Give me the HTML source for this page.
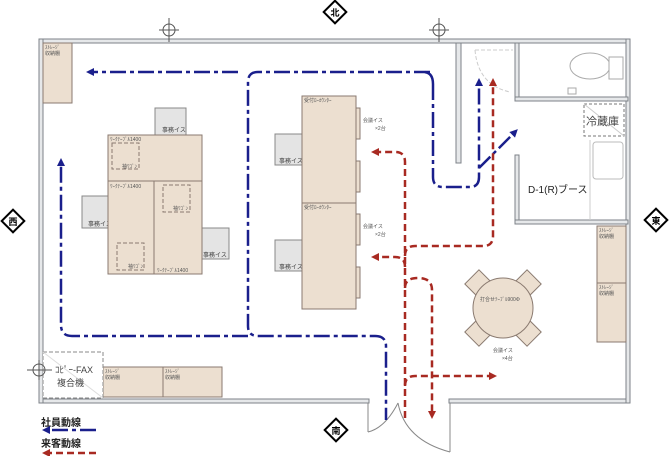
<!DOCTYPE html>
<html><head><meta charset="utf-8"><style>
html,body{margin:0;padding:0;background:#fff;}
svg{display:block;font-family:"Liberation Sans","Noto Sans CJK JP",sans-serif;}
</style></head><body>
<svg width="670" height="456" viewBox="0 0 670 456" xmlns="http://www.w3.org/2000/svg">
<defs>
<marker id="ab" markerWidth="8" markerHeight="8" refX="4" refY="4" orient="auto" markerUnits="userSpaceOnUse"><path d="M0,0 L8,4 L0,8 z" fill="#1a1f8c"/></marker>
<marker id="ar" markerWidth="8" markerHeight="8" refX="4" refY="4" orient="auto" markerUnits="userSpaceOnUse"><path d="M0,0 L8,4 L0,8 z" fill="#a82a22"/></marker>
</defs>
<!-- outer walls -->
<g stroke="#7d8288" fill="#e6e8ea" stroke-width="1">
<rect x="39" y="39" width="591" height="4"/>
<rect x="39" y="399" width="330" height="4"/>
<rect x="449" y="399" width="181" height="4"/>
<rect x="39" y="39" width="4" height="364"/>
<rect x="626" y="39" width="4" height="364"/>
<!-- interior walls -->
<rect x="456" y="43" width="5" height="120"/>
<rect x="515" y="43" width="4" height="57"/>
<rect x="515" y="97" width="113" height="4"/>
<rect x="515" y="155" width="4" height="69"/>
<rect x="515" y="220" width="113" height="4"/>
</g>
<!-- door swing top -->
<path d="M475,50 L513,50 M475,50 Q478,85 510,92" stroke="#ccc" fill="none" stroke-dasharray="4,2"/>
<!-- toilet -->
<ellipse cx="590" cy="66" rx="20" ry="13" fill="#fff" stroke="#aaa"/>
<rect x="609" y="57" width="14" height="22" fill="#fff" stroke="#aaa"/>
<rect x="568" y="88" width="8" height="6" fill="#fff" stroke="#aaa"/>
<!-- fridge -->
<rect x="584" y="104" width="40" height="32" fill="#fff" stroke="#777" stroke-dasharray="3,2"/>
<line x1="584" y1="104" x2="624" y2="136" stroke="#ccc"/>
<text x="586" y="125" font-size="11" fill="#444">冷蔵庫</text>
<rect x="593" y="142" width="30" height="37" rx="3" fill="#fff" stroke="#bbb"/>
<line x1="590" y1="140" x2="590" y2="220" stroke="#ccc"/>
<text x="528" y="193" font-size="10" fill="#222">D-1(R)ブース</text>
<!-- storage -->
<g fill="#ecdfd0" stroke="#8a7a70">
<rect x="43" y="43" width="29" height="60"/>
<rect x="103" y="367" width="60" height="30"/>
<rect x="163" y="367" width="59" height="30"/>
<rect x="597" y="226" width="29" height="57"/>
<rect x="597" y="283" width="29" height="59"/>
</g>
<g font-size="5" fill="#555">
<text x="45" y="49">ｽﾄﾚｰｼﾞ</text><text x="45" y="55">収納棚</text>
<text x="105" y="373">ｽﾄﾚｰｼﾞ</text><text x="105" y="379">収納棚</text>
<text x="165" y="373">ｽﾄﾚｰｼﾞ</text><text x="165" y="379">収納棚</text>
<text x="599" y="232">ｽﾄﾚｰｼﾞ</text><text x="599" y="238">収納棚</text>
<text x="599" y="289">ｽﾄﾚｰｼﾞ</text><text x="599" y="295">収納棚</text>
</g>
<!-- copy fax -->
<rect x="43" y="352" width="60" height="46" fill="#fff" stroke="#888" stroke-dasharray="4,2"/>
<line x1="43" y1="352" x2="103" y2="398" stroke="#ddd"/>
<text x="55" y="373" font-size="9" fill="#444">ｺﾋﾟｰ-FAX</text>
<text x="57" y="386" font-size="9" fill="#444">複合機</text>
<!-- chairs -->
<g fill="#e4e4e4" stroke="#888">
<rect x="155" y="108" width="31" height="27"/>
<rect x="82" y="196" width="27" height="32"/>
<rect x="202" y="228" width="27" height="31"/>
<rect x="275" y="134" width="27" height="31"/>
<rect x="275" y="240" width="27" height="31"/>
</g>
<g font-size="6" fill="#444">
<text x="162" y="132">事務イス</text><text x="88" y="226">事務イス</text><text x="203" y="257">事務イス</text>
<text x="279" y="163">事務イス</text><text x="279" y="269">事務イス</text>
</g>
<!-- desks -->
<g fill="#ecdfd0" stroke="#8a7a70">
<rect x="108" y="135" width="94" height="46"/>
<rect x="108" y="181" width="46" height="93"/>
<rect x="154" y="181" width="48" height="93"/>
<rect x="302" y="96" width="54" height="107"/>
<rect x="302" y="203" width="54" height="106"/>
<rect x="356" y="108" width="4" height="31"/><rect x="356" y="161" width="4" height="31"/>
<rect x="356" y="214" width="4" height="31"/><rect x="356" y="267" width="4" height="31"/>
</g>
<g fill="none" stroke="#8a7a70" stroke-dasharray="4,2">
<rect x="112" y="143" width="27" height="26"/>
<rect x="163" y="185" width="27" height="27"/>
<rect x="117" y="243" width="27" height="27"/>
</g>
<g font-size="5" fill="#555">
<text x="110" y="141">ﾜｰｸﾃｰﾌﾞﾙ1400</text><text x="110" y="188">ﾜｰｸﾃｰﾌﾞﾙ1400</text><text x="157" y="272">ﾜｰｸﾃｰﾌﾞﾙ1400</text>
<text x="122" y="168">袖ﾜｺﾞﾝ</text><text x="173" y="210">袖ﾜｺﾞﾝ</text><text x="128" y="268">袖ﾜｺﾞﾝ</text>
<text x="304" y="102">受付ﾛｰｶｳﾝﾀｰ</text><text x="304" y="209">受付ﾛｰｶｳﾝﾀｰ</text>
<text x="363" y="122">会議イス</text><text x="375" y="130">×2台</text>
<text x="363" y="228">会議イス</text><text x="375" y="236">×2台</text>
<text x="493" y="352">会議イス</text><text x="502" y="360">×4台</text>
</g>
<!-- round table -->
<g fill="#ecdfd0" stroke="#8a7a70">
<g transform="translate(503,308)">
<rect x="-44" y="-10" width="22" height="20" transform="rotate(45)"/>
<rect x="22" y="-10" width="22" height="20" transform="rotate(45)"/>
<rect x="-44" y="-10" width="22" height="20" transform="rotate(-45)"/>
<rect x="22" y="-10" width="22" height="20" transform="rotate(-45)"/>
<circle r="30"/>
</g>
</g>
<text x="480" y="301" font-size="5" fill="#555">打合せﾃｰﾌﾞﾙ900Φ</text>
<!-- bottom door -->
<g stroke="#888" fill="none">
<path d="M368,403 V432 M368,432 Q385,428 398,403"/>
<path d="M450,403 V452 M450,452 Q405,440 398,403"/>
</g>
<!-- blue path -->
<g stroke="#1a1f8c" stroke-width="2.5" fill="none" stroke-dasharray="16,4,4,4">
<path d="M430,72 H258 Q248,72 248,82 V326 Q248,336 258,336 H375 Q386,336 386,346 V420"/>
<path d="M238,72 H90" marker-end="url(#ab)"/>
<path d="M433,84 Q433,72 423,72"/>
<path d="M433,84 V177 Q433,187 443,187 H470 Q479,187 479,177 V82" marker-end="url(#ab)"/>
<path d="M479,168 L515,132" marker-end="url(#ab)"/>
<path d="M248,336 H72 Q61,336 61,325 V162" marker-end="url(#ab)"/>
</g>
<!-- red path -->
<g stroke="#a82a22" stroke-width="2.5" fill="none" stroke-dasharray="7,4">
<path d="M405,418 V162 Q405,152 395,152 H375" marker-end="url(#ar)"/>
<path d="M405,267 Q405,257 395,257 H375" marker-end="url(#ar)"/>
<path d="M405,256 Q405,246 415,246 H483 Q493,246 493,236 V82" marker-end="url(#ar)"/>
<path d="M405,288 Q405,278 418,278 Q432,278 432,290 V415" marker-end="url(#ar)"/>
<path d="M405,386 Q405,376 415,376 H493" marker-end="url(#ar)"/>
</g>
<!-- legend -->
<text x="41" y="426" font-size="10" font-weight="bold" fill="#222">社員動線</text>
<path d="M96,430 H46" stroke="#1a1f8c" stroke-width="2.5" stroke-dasharray="16,4,4,4" marker-end="url(#ab)"/>
<text x="41" y="447" font-size="10" font-weight="bold" fill="#222">来客動線</text>
<path d="M96,453 H46" stroke="#a82a22" stroke-width="2.5" stroke-dasharray="7,4" marker-end="url(#ar)"/>
<!-- grid marks -->
<g stroke="#555" fill="none">
<circle cx="169" cy="30" r="6"/><line x1="159" y1="30" x2="179" y2="30"/><line x1="169" y1="18" x2="169" y2="42"/>
<circle cx="439" cy="30" r="6"/><line x1="429" y1="30" x2="449" y2="30"/><line x1="439" y1="18" x2="439" y2="42"/>
<circle cx="39" cy="370" r="6"/><line x1="27" y1="370" x2="52" y2="370"/><line x1="39" y1="360" x2="39" y2="380"/>
</g>
<!-- compass -->
<g font-size="9" font-weight="bold" text-anchor="middle" fill="#000">
<g transform="translate(335,12)"><rect x="-8" y="-8" width="16" height="16" transform="rotate(45)" fill="#fff" stroke="#000" stroke-width="2"/><text y="4">北</text></g>
<g transform="translate(13,221)"><rect x="-8" y="-8" width="16" height="16" transform="rotate(45)" fill="#fff" stroke="#000" stroke-width="2"/><text y="4">西</text></g>
<g transform="translate(656,220)"><rect x="-8" y="-8" width="16" height="16" transform="rotate(45)" fill="#fff" stroke="#000" stroke-width="2"/><text y="4">東</text></g>
<g transform="translate(336,430)"><rect x="-8" y="-8" width="16" height="16" transform="rotate(45)" fill="#fff" stroke="#000" stroke-width="2"/><text y="4">南</text></g>
</g>
</svg>
</body></html>
